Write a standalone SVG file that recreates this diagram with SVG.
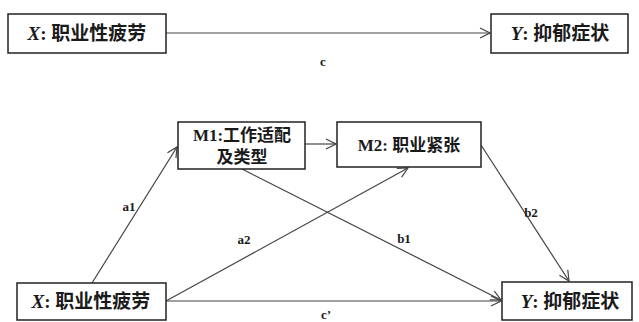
<svg xmlns="http://www.w3.org/2000/svg" width="639" height="322" viewBox="0 0 639 322">
<style>
.box{fill:#fff;stroke:#222;stroke-width:1.5}
.t{font-family:"Liberation Serif","Noto Sans CJK SC",serif;font-weight:bold;fill:#1a1a1a}
.n{font-size:19px}
.m{font-size:17px}
.lbl{font-size:13px}
.c{fill:none;stroke:#444;stroke-width:1.2}
</style>
<defs>
<marker id="ah" viewBox="0 0 12 12" refX="11" refY="6" markerWidth="12" markerHeight="12" markerUnits="userSpaceOnUse" orient="auto">
<path d="M1,1 L11,6 L1,11" fill="none" stroke="#444" stroke-width="1.2"/>
</marker>
</defs>
<rect width="639" height="322" fill="#fff"/>
<g id="connectors">
<line class="c" x1="166" y1="33" x2="490" y2="33" marker-end="url(#ah)"/>
<line class="c" x1="305" y1="144" x2="336" y2="144" marker-end="url(#ah)"/>
<line class="c" x1="92" y1="283" x2="177" y2="147" marker-end="url(#ah)"/>
<line class="c" x1="166" y1="301" x2="408" y2="168" marker-end="url(#ah)"/>
<line class="c" x1="166" y1="301" x2="501" y2="301" marker-end="url(#ah)"/>
<line class="c" x1="242" y1="169" x2="501" y2="300" marker-end="url(#ah)"/>
<line class="c" x1="481" y1="145" x2="569" y2="281" marker-end="url(#ah)"/>
<text class="t lbl" x="323" y="66" text-anchor="middle">c</text>
<text class="t lbl" x="129" y="211" text-anchor="middle">a1</text>
<text class="t lbl" x="244" y="244" text-anchor="middle">a2</text>
<text class="t lbl" x="404" y="243" text-anchor="middle">b1</text>
<text class="t lbl" x="531" y="217" text-anchor="middle">b2</text>
<text class="t lbl" x="326" y="319" text-anchor="middle">c’</text>
</g>
<g id="x-top">
<rect class="box" x="8" y="14" width="158" height="39"/>
<text class="t n" x="87" y="40" text-anchor="middle"><tspan font-style="italic">X</tspan>: 职业性疲劳</text>
</g>
<g id="y-top">
<rect class="box" x="491" y="14" width="137" height="39"/>
<text class="t n" x="560" y="40" text-anchor="middle"><tspan font-style="italic">Y</tspan>: 抑郁症状</text>
</g>
<g id="m1">
<rect class="box" x="178" y="122" width="127" height="47"/>
<text class="t m" x="242" y="141" text-anchor="middle">M1:工作适配</text>
<text class="t m" x="242" y="163" text-anchor="middle">及类型</text>
</g>
<g id="m2">
<rect class="box" x="337" y="122" width="144" height="45"/>
<text class="t m" x="409" y="151" text-anchor="middle">M2: 职业紧张</text>
</g>
<g id="x-bottom">
<rect class="box" x="17" y="283" width="149" height="37"/>
<text class="t n" x="91" y="308" text-anchor="middle"><tspan font-style="italic">X</tspan>: 职业性疲劳</text>
</g>
<g id="y-bottom">
<rect class="box" x="502" y="282" width="130" height="38"/>
<text class="t n" x="570" y="308" text-anchor="middle"><tspan font-style="italic">Y</tspan>: 抑郁症状</text>
</g>
</svg>
